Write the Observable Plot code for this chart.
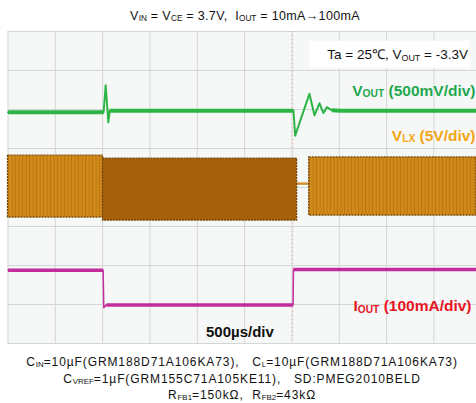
<!DOCTYPE html>
<html><head><meta charset="utf-8">
<script src="https://cdn.jsdelivr.net/npm/d3@7"></script>
<script src="https://cdn.jsdelivr.net/npm/@observablehq/plot@0.6"></script>
<style>
body{margin:0;background:#fff;font-family:"Liberation Sans",Arial,sans-serif;color:#111;}
#wrap{width:476px;position:relative;}
.title{height:27px;line-height:32px;text-align:center;font-size:12.5px;letter-spacing:0.35px;padding-left:14px;box-sizing:border-box;white-space:nowrap;}
.s{font-size:0.66em;vertical-align:-0.08em;letter-spacing:0;}
.cap{text-align:center;font-size:12px;letter-spacing:0.9px;line-height:14px;padding-top:8px;padding-left:8px;white-space:nowrap;}
.cap .s{letter-spacing:0;}
#chart svg{display:block;}
</style></head><body>
<div id="wrap">
<div class="title" id="title"></div>
<div id="chart"></div>
<div class="cap" id="cap"></div>
</div>
<script>
// ---- data (time in µs, 500 µs/div; levels in screen divisions, 0..8) ----
const gridX = [0, 500, 1000, 1500, 2000, 2500, 3000, 3500, 4000, 4500];
const gridY = [0, 1, 2, 3, 4, 5, 6, 7, 8];
const triggerTime = 3010;

const voutT = [0, 1010, 1032, 1060, 1075, 3016, 3034, 3185, 3238, 3291, 3333, 3369, 3422, 3520, 4950];
const voutV = [5.93, 5.93, 6.62, 5.67, 5.97, 5.97, 5.33, 6.40, 5.85, 6.16, 5.91, 6.06, 5.98, 5.97, 5.97];

const ioutT = [0, 1005, 1012, 1040, 3012, 3016, 4950];
const ioutV = [1.88, 1.88, 0.92, 0.99, 0.99, 1.90, 1.90];

const vlxStart = [0, 1004, 3182];
const vlxEnd   = [1004, 3055, 4950];
const vlxLow   = [3.23, 3.15, 3.28];
const vlxHigh  = [4.82, 4.74, 4.77];
const vlxGapLevel = 4.10;

const titleText = "V_{IN} = V_{CE} = 3.7V,\u00a0 I_{OUT} = 10mA→100mA";
const captionLines = [
  "C_{IN}=10µF(GRM188D71A106KA73),\u00a0\u00a0 C_{L}=10µF(GRM188D71A106KA73)",
  "C_{VREF}=1µF(GRM155C71A105KE11),\u00a0\u00a0 SD:PMEG2010BELD",
  "R_{FB1}=150kΩ,\u00a0 R_{FB2}=43kΩ"
];
const labelVout = "V_{OUT} (500mV/div)";
const labelVlx = "V_{LX} (5V/div)";
const labelIout = "I_{OUT} (100mA/div)";
const labelTime = "500µs/div";
const labelCond = "Ta = 25℃, V_{OUT} = -3.3V";

// ---- helpers ----
function toHtml(s){ return s.replace(/_\{([^}]*)\}/g, '<span class="s">$1</span>'); }
document.getElementById("title").innerHTML = toHtml(titleText);
document.getElementById("cap").innerHTML = captionLines.map(toHtml).join("<br>");

const bandFill = ["#cd8416", "#a6600b", "#ca8217"];
const bands = vlxStart.map((s, i) => ({t1: s, t2: vlxEnd[i], lo: vlxLow[i], hi: vlxHigh[i], fill: bandFill[i]}));

// flat (horizontal) segments drawn thick, transitions thin
function flatSegs(T, V) {
  const out = [];
  for (let i = 0; i < T.length - 1; i++) if (Math.abs(V[i + 1] - V[i]) < 0.05) out.push({x1: T[i], x2: T[i + 1], y1: V[i], y2: V[i + 1]});
  return out;
}
const voutFlat = flatSegs(voutT, voutV);
const ioutFlat = flatSegs(ioutT, ioutV);

const font = '"Liberation Sans", Arial, sans-serif';
const plot = Plot.plot({
  width: 476, height: 320,
  marginTop: 4, marginBottom: 4, marginLeft: 7.5, marginRight: 0,
  x: {domain: [0, 4950], axis: null},
  y: {domain: [0, 8], axis: null},
  style: {background: "transparent", fontFamily: font},
  marks: [
    Plot.frame({fill: "#f6f8f7", stroke: null}),
    Plot.ruleX(gridX, {stroke: "#d4d6d4", strokeWidth: 1}),
    Plot.ruleY(gridY, {stroke: "#d4d6d4", strokeWidth: 1}),
    Plot.ruleX([triggerTime], {stroke: "#f0a8a8", strokeWidth: 1, strokeDasharray: "1,3"}),
    // condition box
    Plot.rect([0], {x1: 3190, x2: 4880, y1: 7.05, y2: 7.75, fill: "white"}),
    Plot.text([labelCond], {x: 4860, y: 7.4, text: d => d, textAnchor: "end", fontSize: 13.5, fill: "#111"}),
    // VLX
    Plot.ruleY([vlxGapLevel], {x1: vlxEnd[1], x2: vlxStart[2], stroke: "#d39230", strokeWidth: 2.5}),
    Plot.rect(bands, {x1: "t1", x2: "t2", y1: "lo", y2: "hi", fill: "fill", stroke: "#6e4508", strokeWidth: 1.2, strokeDasharray: "2,1"}),
    // VOUT
    Plot.line(voutT, {x: voutT, y: voutV, stroke: "#2cb544", strokeWidth: 2, strokeLinejoin: "round"}),
    Plot.link(voutFlat, {x1: "x1", x2: "x2", y1: "y1", y2: "y2", stroke: "#2cb544", strokeWidth: 4}),
    // IOUT
    Plot.line(ioutT, {x: ioutT, y: ioutV, stroke: "#c22c9c", strokeWidth: 1.5}),
    Plot.link(ioutFlat, {x1: "x1", x2: "x2", y1: "y1", y2: "y2", stroke: "#c22c9c", strokeWidth: 3.5}),
    // labels
    Plot.text([labelVout], {x: 4950, y: 6.48, text: d => d, textAnchor: "end", dx: -1, fontSize: 15.5, fontWeight: "bold", fill: "#1fa84e"}),
    Plot.text([labelVlx], {x: 4950, y: 5.33, text: d => d, textAnchor: "end", dx: -1, fontSize: 15.5, fontWeight: "bold", fill: "#f3a514"}),
    Plot.text([labelIout], {x: 4950, y: 0.95, text: d => d, textAnchor: "end", dx: -5, fontSize: 15.5, fontWeight: "bold", fill: "#e8141e"}),
    Plot.text([labelTime], {x: 2450, y: 0.3, text: d => d, fontSize: 15, fontWeight: "bold", fill: "#111"})
  ]
});

// switching-texture pattern for the light VLX bands (subtle)
const NS = "http://www.w3.org/2000/svg";
const defs = document.createElementNS(NS, "defs");
defs.innerHTML =
  '<pattern id="swA" width="7" height="20" patternUnits="userSpaceOnUse">' +
  '<rect width="7" height="20" fill="#d08a1a"/><rect x="1" width="1" height="20" fill="#bb7612"/><rect x="4.5" width="1.5" height="20" fill="#c47e16"/></pattern>';
plot.insertBefore(defs, plot.firstChild);
plot.querySelectorAll("rect").forEach(r => {
  const f = (r.getAttribute("fill") || "").toLowerCase();
  if (f === bandFill[0] || f === bandFill[2]) r.setAttribute("fill", "url(#swA)");
});

// subscript formatting inside SVG text
plot.querySelectorAll("text").forEach(t => {
  const s = t.textContent;
  if (!s.includes("_{")) return;
  while (t.firstChild) t.removeChild(t.firstChild);
  let shifted = false;
  s.split(/(_\{[^}]*\})/).forEach(p => {
    if (!p) return;
    const ts = document.createElementNS(NS, "tspan");
    if (p.startsWith("_{")) {
      ts.textContent = p.slice(2, -1);
      ts.setAttribute("font-size", "0.66em");
      ts.setAttribute("dy", "1.5");
      shifted = true;
    } else {
      ts.textContent = p;
      if (shifted) { ts.setAttribute("dy", "-1.5"); shifted = false; }
    }
    t.appendChild(ts);
  });
});
document.getElementById("chart").appendChild(plot);
</script>
</body></html>
